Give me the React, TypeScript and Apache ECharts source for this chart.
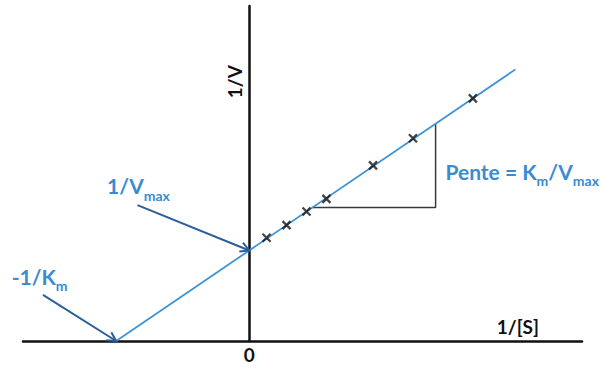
import React, { useEffect, useRef } from 'react';
import * as echarts from 'echarts';

// Lineweaver-Burk plot, in units where -1/Km = -1 and 1/Vmax = 1
const lineX = [-1, 2.0];
const lineY = [0, 3.0];
const pointsX = [0.13, 0.28, 0.43, 0.58, 0.93, 1.23, 1.68];
const pointsY = [1.14, 1.28, 1.43, 1.57, 1.94, 2.24, 2.68];
const slopeX = [0.475, 1.4, 1.4];
const slopeY = [1.475, 1.475, 2.4];
const arrowStartX = [-1.55, -0.84];
const arrowStartY = [0.51, 1.5];
const arrowEndX = [-1, 0];
const arrowEndY = [0, 1];
const xTickValues = [0];
const labelTexts = [
  '{m|1/V}{s|max}',
  '{m|-1/K}{s|m}',
  '{m|Pente = K}{s|m}{m|/V}{s|max}',
  '{k|1/[S]}',
  '{k|1/V}',
];
const labelX = [-1.068, -1.785, 1.474, 1.86, -0.113];
const labelY = [1.83, 0.83, 1.99, 0.26, 2.865];
const labelRotated = [false, false, false, false, true];

const BLUE_TEXT = '#3a8bd0';
const BLUE_LINE = '#3d93d6';
const BLUE_ARROW = '#2a5f99';
const FONT = 'Lato, "Open Sans", sans-serif';

export default function App() {
  const ref = useRef<HTMLDivElement>(null);
  useEffect(() => {
    if (!ref.current) return;
    const chart = echarts.init(ref.current, null, { renderer: 'svg' });
    const rich = {
      m: { fontSize: 21, fontWeight: 'bold', fontFamily: FONT, fill: BLUE_TEXT, verticalAlign: 'top', lineHeight: 27 },
      s: { fontSize: 14, fontWeight: 'bold', fontFamily: FONT, fill: BLUE_TEXT, verticalAlign: 'bottom', lineHeight: 14 },
      k: { fontSize: 19, fontWeight: 'bold', fontFamily: FONT, fill: '#111' },
    };
    chart.setOption({
      animation: false,
      backgroundColor: '#fff',
      grid: { left: 23, right: 18, top: 6, bottom: 28, containLabel: false },
      xAxis: {
        type: 'value',
        min: -1.7,
        max: 2.5,
        axisLine: { show: true, onZero: true, lineStyle: { color: '#111', width: 2.5 } },
        axisTick: { show: false },
        splitLine: { show: false },
        axisLabel: {
          show: true,
          customValues: xTickValues,
          fontSize: 19,
          fontWeight: 'bold',
          fontFamily: FONT,
          color: '#111',
          margin: 4,
        },
      },
      yAxis: {
        type: 'value',
        min: 0,
        max: 3.7,
        axisLine: { show: true, onZero: true, lineStyle: { color: '#111', width: 2.5 } },
        axisTick: { show: false },
        splitLine: { show: false },
        axisLabel: { show: false },
      },
      series: [
        {
          type: 'line',
          data: lineX.map((x, i) => [x, lineY[i]]),
          showSymbol: false,
          lineStyle: { color: BLUE_LINE, width: 1.8 },
          z: 3,
        },
        {
          type: 'line',
          data: slopeX.map((x, i) => [x, slopeY[i]]),
          showSymbol: false,
          lineStyle: { color: '#3a3a3a', width: 1.5 },
          z: 2,
        },
        {
          type: 'scatter',
          data: pointsX.map((x, i) => [x, pointsY[i]]),
          symbol: 'path://M0,0L10,10M10,0L0,10',
          symbolSize: 8,
          itemStyle: { color: 'transparent', borderColor: '#111', borderWidth: 2.2 },
          z: 5,
        },
        {
          type: 'custom',
          clip: false,
          data: arrowStartX.map((x, i) => [x, arrowStartY[i], arrowEndX[i], arrowEndY[i]]),
          encode: { x: [0, 2], y: [1, 3] },
          renderItem: (params: any, api: any) => {
            const p1 = api.coord([api.value(0), api.value(1)]);
            const p2 = api.coord([api.value(2), api.value(3)]);
            const ang = Math.atan2(p2[1] - p1[1], p2[0] - p1[0]);
            const L = 10;
            const a = 0.5;
            const h1 = [p2[0] - L * Math.cos(ang - a), p2[1] - L * Math.sin(ang - a)];
            const h2 = [p2[0] - L * Math.cos(ang + a), p2[1] - L * Math.sin(ang + a)];
            return {
              type: 'group',
              children: [
                {
                  type: 'line',
                  shape: { x1: p1[0], y1: p1[1], x2: p2[0], y2: p2[1] },
                  style: { stroke: BLUE_ARROW, lineWidth: 2 },
                },
                {
                  type: 'polyline',
                  shape: { points: [h1, p2, h2] },
                  style: { stroke: BLUE_ARROW, lineWidth: 2, fill: 'none' },
                },
              ],
            };
          },
          z: 4,
        },
        {
          type: 'custom',
          clip: false,
          data: labelX.map((x, i) => [x, labelY[i]]),
          renderItem: (params: any, api: any) => {
            const i = params.dataIndex;
            const p = api.coord([api.value(0), api.value(1)]);
            const rot = labelRotated[i];
            return {
              type: 'text',
              x: p[0],
              y: p[1],
              rotation: rot ? Math.PI / 2 : 0,
              style: {
                text: labelTexts[i],
                rich,
                align: rot ? 'center' : 'left',
                verticalAlign: rot ? 'middle' : 'top',
              },
            };
          },
          z: 6,
        },
      ],
    });
    return () => chart.dispose();
  }, []);
  return <div ref={ref} style={{ width: 600, height: 369, position: 'absolute', left: 0, top: 0 }} />;
}
